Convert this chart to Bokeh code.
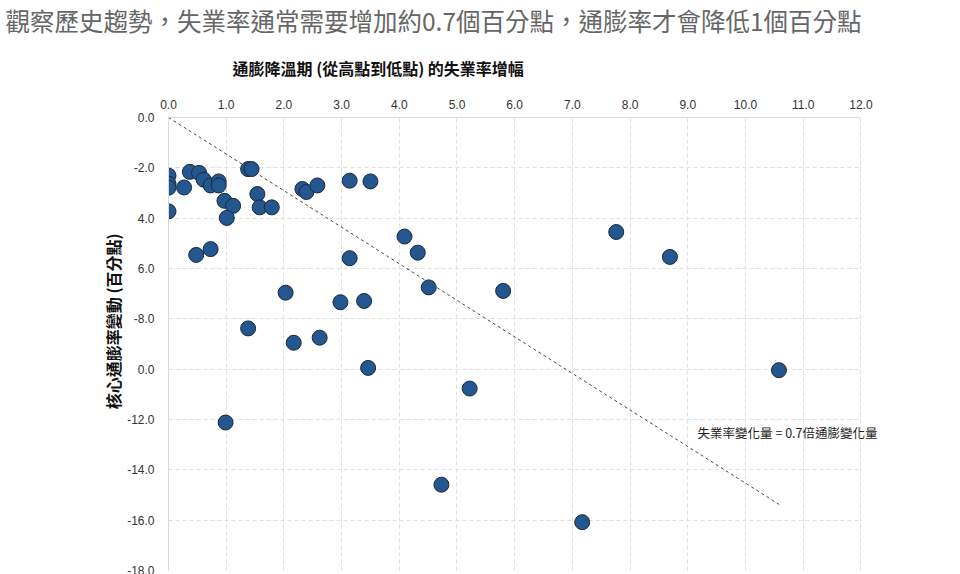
from bokeh.plotting import figure
from bokeh.models import Title, Label, FixedTicker, ColumnDataSource, Range1d
from bokeh.embed import file_html
from bokeh.resources import INLINE

heading = "觀察歷史趨勢，失業率通常需要增加約0.7個百分點，通膨率才會降低1個百分點"
x_title = "通膨降溫期 (從高點到低點) 的失業率增幅"
y_title = "核心通膨率變動 (百分點)"
trend_label = "失業率變化量 = 0.7倍通膨變化量"

unemp_rise = [0.0, 0.0, 0.0, 0.0, 0.27, 0.37, 0.53, 0.61, 0.73, 0.87, 0.87, 0.97, 1.12, 1.01,
              0.48, 0.73, 1.38, 1.44, 1.54, 1.58, 1.79, 2.32, 2.39, 2.58, 3.14, 3.50, 3.14,
              4.09, 4.32, 4.51, 5.80, 2.03, 2.98, 3.39, 1.38, 2.17, 2.62, 3.46, 5.22, 0.99,
              4.73, 7.17, 7.76, 8.69, 10.58]
core_infl_chg = [-2.31, -2.63, -2.79, -3.73, -2.78, -2.16, -2.2, -2.47, -2.7, -2.54, -2.7, -3.31,
                 -3.51, -3.99, -5.46, -5.23, -2.05, -2.05, -3.04, -3.57, -3.57, -2.84, -2.96,
                 -2.70, -2.51, -2.54, -5.59, -4.73, -5.37, -6.75, -6.89, -6.96, -7.34, -7.29,
                 -8.38, -8.95, -8.75, -9.95, -10.77, -12.12, -14.59, -16.08, -4.55, -5.54, -10.04]

trend_x = [0.0, 10.6]
trend_y = [0.0, -15.4]

x_ticks = [0, 1, 2, 3, 4, 5, 6, 7, 8, 9, 10, 11, 12]
x_tick_labels = ["0.0", "1.0", "2.0", "3.0", "4.0", "5.0", "6.0", "7.0", "8.0", "9.0", "10.0", "11.0", "12.0"]
y_ticks = [0, -2, -4, -6, -8, -10, -12, -14, -16, -18]
y_tick_labels = ["0.0", "-2.0", "4.0", "6.0", "-8.0", "0.0", "-12.0", "-14.0", "-16.0", "-18.0"]

X_MIN, X_MAX, X_PAD = 0, 12, 12.6
Y_MIN, Y_MAX = -18, 0

FONT = "Noto Sans CJK TC"
NUMFONT = "Liberation Sans"

p = figure(width=960, height=574, output_backend="svg", toolbar_location=None,
           x_range=Range1d(X_MIN, X_PAD), y_range=Range1d(Y_MIN, Y_MAX),
           x_axis_location="above", min_border_left=168, min_border_right=65,
           min_border_bottom=4, min_border_top=0)
p.outline_line_color = None
p.background_fill_color = "white"
p.border_fill_color = "white"

# axes
xa = p.xaxis[0]
xa.ticker = FixedTicker(ticks=x_ticks)
xa.major_label_overrides = {t: l for t, l in zip(x_ticks, x_tick_labels)}
xa.bounds = (X_MIN, X_MAX)
ya = p.yaxis[0]
ya.ticker = FixedTicker(ticks=y_ticks)
ya.major_label_overrides = {t: l for t, l in zip(y_ticks, y_tick_labels)}
for ax in (xa, ya):
    ax.major_tick_line_color = None
    ax.minor_tick_line_color = None
    ax.axis_line_color = "#d9d9d9"
    ax.major_label_text_font = NUMFONT
    ax.major_label_text_font_size = "12px"
    ax.major_label_text_color = "#333333"
    ax.major_label_standoff = 8
xa.major_label_standoff = 3

# grid
p.xgrid.ticker = FixedTicker(ticks=x_ticks)
p.ygrid.ticker = FixedTicker(ticks=y_ticks)
for g in (p.xgrid[0], p.ygrid[0]):
    g.grid_line_color = "#dedede"
    g.grid_line_dash = "4 3"
    g.grid_line_width = 1

# blank strip right of the last grid column (room for the annotation text)
p.quad(left=[X_MAX + 0.02], right=[X_PAD], bottom=[Y_MIN], top=[Y_MAX],
       fill_color="white", line_color=None)

# data
src = ColumnDataSource(dict(x=unemp_rise, y=core_infl_chg))
p.line(trend_x, trend_y, line_color="#444444", line_dash="3 3", line_width=1)
p.scatter("x", "y", source=src, size=15, fill_color="#24578f", line_color="#1a2a3a", line_width=1)

p.add_layout(Label(x=9.17, y=-12.51, text=trend_label, text_font=FONT, text_font_size="12.5px",
                   text_color="#222222", text_baseline="middle"))

# y title
p.add_layout(Title(text=y_title, align="right", offset=116, text_font=FONT, text_font_size="16px",
                   text_font_style="bold", text_color="#111111", standoff=0), "left")

# x title and heading
p.add_layout(Title(text=x_title, align="left", offset=64, text_font=FONT, text_font_size="16px",
                   text_font_style="bold", text_color="#111111", standoff=33), "above")
p.title.text = heading
p.title.align = "left"
p.title.offset = -163
p.title.text_font = FONT
p.title.text_font_size = "24.5px"
p.title.text_font_style = "normal"
p.title.text_color = "#666666"
p.title.standoff = 0

open("out.html", "w").write(file_html(p, INLINE))
